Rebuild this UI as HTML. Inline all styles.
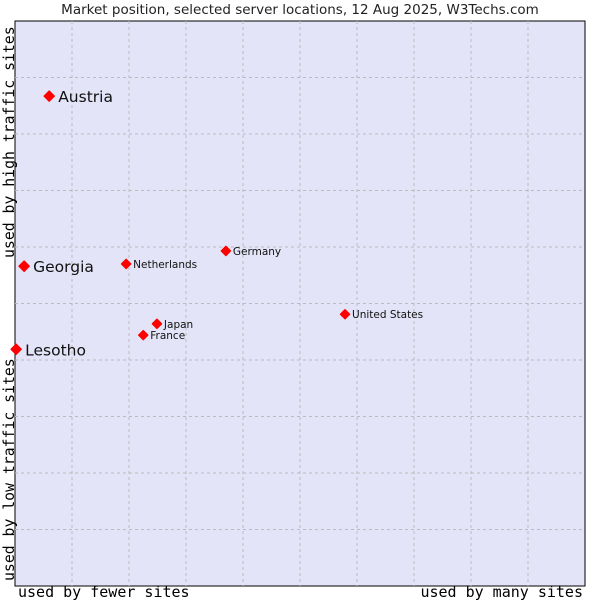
<!DOCTYPE html>
<html><head><meta charset="utf-8"><style>
body{margin:0;background:#fff;width:600px;height:600px;overflow:hidden}
svg{display:block}
</style></head><body>
<svg id="chart" width="600" height="600" xmlns="http://www.w3.org/2000/svg">
<text x="300" y="14" text-anchor="middle" font-family="DejaVu Sans, sans-serif" font-size="13.5" fill="#222">Market position, selected server locations, 12 Aug 2025, W3Techs.com</text>
<rect x="15" y="21" width="570" height="565" fill="#e4e4f8" stroke="#000" stroke-width="1"/>
<g id="grid"></g>
<g id="points"></g>
<text transform="translate(14,581) rotate(-90)" font-family="DejaVu Sans Mono, monospace" font-size="14.8" fill="#000">used by low traffic sites</text>
<text transform="translate(14,258) rotate(-90)" font-family="DejaVu Sans Mono, monospace" font-size="14.8" fill="#000">used by high traffic sites</text>
<text x="18" y="597" font-family="DejaVu Sans Mono, monospace" font-size="15" fill="#000">used by fewer sites</text>
<text x="583" y="597" text-anchor="end" font-family="DejaVu Sans Mono, monospace" font-size="15" fill="#000">used by many sites</text>
</svg>
<script>
const names=["Austria","Georgia","Lesotho","Netherlands","Germany","United States","Japan","France"];
const xVals=[6,1.6,0.2,19.5,37,57.9,24.9,22.5];
const yVals=[86.7,56.6,41.9,57,59.3,48.1,46.4,44.4];
const bigLabel=[true,true,true,false,false,false,false,false];
const L=15,T=21,W=570,H=565;
const sx=v=>L+v/100*W, sy=v=>T+H-v/100*H;
const NS="http://www.w3.org/2000/svg";
const grid=document.getElementById('grid');
for(let i=1;i<10;i++){
  const v=document.createElementNS(NS,'line');
  v.setAttribute('x1',sx(i*10));v.setAttribute('x2',sx(i*10));v.setAttribute('y1',T);v.setAttribute('y2',T+H);
  v.setAttribute('stroke','#bbb');v.setAttribute('stroke-dasharray','3,3');
  
  
  grid.appendChild(v);
  const h=document.createElementNS(NS,'line');
  h.setAttribute('y1',sy(i*10));h.setAttribute('y2',sy(i*10));h.setAttribute('x1',L);h.setAttribute('x2',L+W);
  h.setAttribute('stroke','#bbb');h.setAttribute('stroke-dasharray','3,3');
  
  
  grid.appendChild(h);
}
const pts=document.getElementById('points');
names.forEach((n,i)=>{
  const x=sx(xVals[i]),y=sy(yVals[i]);
  const r=bigLabel[i]?5:4.5;
  const c=document.createElementNS(NS,'path');
  c.setAttribute('d',`M${x} ${y-r}L${x+r} ${y}L${x} ${y+r}L${x-r} ${y}Z`);
  c.setAttribute('fill','#f00');c.setAttribute('stroke','#f00');c.setAttribute('stroke-width','1.5');c.setAttribute('stroke-linejoin','round');
  
  
  pts.appendChild(c);
  const t=document.createElementNS(NS,'text');
  t.setAttribute('x',x+(bigLabel[i]?9:7));t.setAttribute('y',y+(bigLabel[i]?6:4));
  t.setAttribute('font-family','DejaVu Sans, sans-serif');t.setAttribute('font-size',bigLabel[i]?'15.5':'10.5');t.setAttribute('fill','#111');
  t.textContent=n;
  
  
  pts.appendChild(t);
});
</script>
</body></html>
